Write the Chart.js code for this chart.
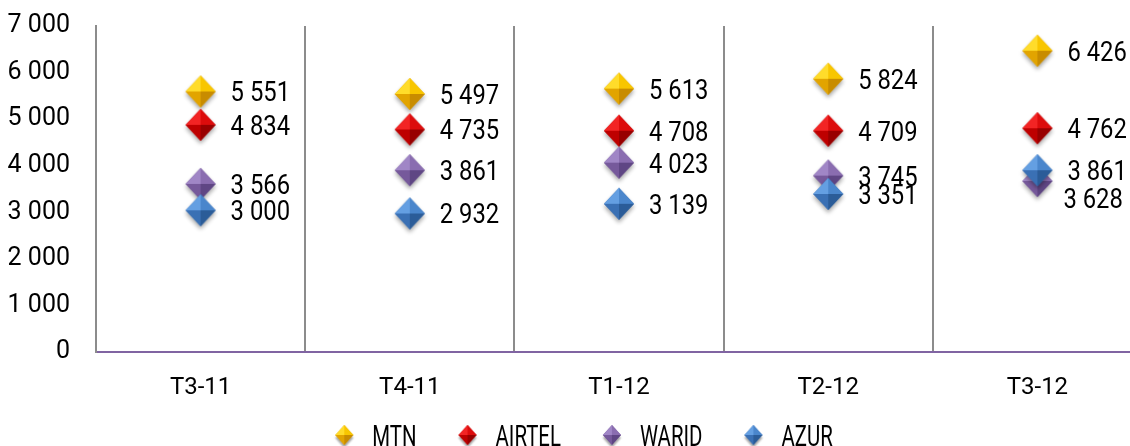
<!DOCTYPE html>
<html>
<head>
<meta charset="utf-8">
<script src="https://cdn.jsdelivr.net/npm/chart.js@4.4.1/dist/chart.umd.min.js"></script>
<style>
    html, body { margin: 0; padding: 0; overflow: hidden; background: #fff; }
    #wrap { width: 1162px; height: 446px; }
</style>
</head>
<body>
<div id="wrap"><canvas id="chart"></canvas></div>
<script>
// data
const quarters = ['T3-11', 'T4-11', 'T1-12', 'T2-12', 'T3-12'];
const operators = ['MTN', 'AIRTEL', 'WARID', 'AZUR'];
const mtn = [5551, 5497, 5613, 5824, 6426];
const airtel = [4834, 4735, 4708, 4709, 4762];
const warid = [3566, 3861, 4023, 3745, 3628];
const azur = [3000, 2932, 3139, 3351, 3861];
const yTicks = [0, 1000, 2000, 3000, 4000, 5000, 6000, 7000];

const font = 'Roboto, "Liberation Sans", sans-serif';

// facet colours for the shaded diamonds: top-left, top-right, bottom-left, bottom-right
const shades = {
    MTN:    ['#FFDC2A', '#F8C600', '#E2A400', '#C88C00'],
    AIRTEL: ['#F22424', '#DC0C0C', '#BE0000', '#980000'],
    WARID:  ['#A086C6', '#8A6DB0', '#76599B', '#5F4684'],
    AZUR:   ['#649FE2', '#4A86CC', '#3A70B4', '#2B5C98']
};

function diamond(cols, hw, hh, pad) {
    const c = document.createElement('canvas');
    c.width = hw * 2 + pad * 2;
    c.height = hh * 2 + pad * 2 + 4;
    const g = c.getContext('2d');
    const cx = c.width / 2, cy = hh + pad;
    // soft shadow
    g.save();
    g.shadowColor = 'rgba(0,0,0,0.35)';
    g.shadowBlur = pad;
    g.shadowOffsetY = 3;
    g.beginPath();
    g.moveTo(cx, cy - hh); g.lineTo(cx + hw, cy); g.lineTo(cx, cy + hh); g.lineTo(cx - hw, cy);
    g.closePath();
    g.fillStyle = cols[2];
    g.fill();
    g.restore();
    const tri = (ax, ay, bx, by, col) => {
        g.beginPath();
        g.moveTo(cx, cy); g.lineTo(ax, ay); g.lineTo(bx, by);
        g.closePath();
        g.fillStyle = col;
        g.fill();
    };
    tri(cx, cy - hh, cx - hw, cy, cols[0]);
    tri(cx, cy - hh, cx + hw, cy, cols[1]);
    tri(cx - hw, cy, cx, cy + hh, cols[2]);
    tri(cx + hw, cy, cx, cy + hh, cols[3]);
    return c;
}

const fmt = v => String(v).replace(/\B(?=(\d{3})+(?!\d))/g, ' ');

// narrow text: squeeze horizontally (no narrow face installed)
function narrowText(ctx, txt, x, y, sx) {
    ctx.save();
    ctx.translate(x, y);
    ctx.scale(sx, 1);
    ctx.fillText(txt, 0, 0);
    ctx.restore();
}

const seriesList = [mtn, airtel, warid, azur];
const bigMarks = operators.map(n => diamond(shades[n], 15, 16, 4));
const smallMarks = operators.map(n => diamond(shades[n], 9, 10, 2));

// value labels, drawn to the right of each marker
const labelShift = { '2-4': [-4, 17] };
const valueLabels = {
    id: 'valueLabels',
    afterDatasetsDraw(chart) {
        const ctx = chart.ctx;
        ctx.save();
        ctx.font = '28px ' + font;
        ctx.fillStyle = '#000';
        ctx.textBaseline = 'middle';
        ctx.textAlign = 'left';
        chart.data.datasets.forEach((ds, i) => {
            chart.getDatasetMeta(i).data.forEach((pt, j) => {
                const s = labelShift[i + '-' + j] || [0, 0];
                narrowText(ctx, fmt(ds.data[j]), pt.x + 30 + s[0], pt.y + 1 + s[1], 0.85);
            });
        });
        ctx.restore();
    }
};

// legend along the bottom
const bottomLegend = {
    id: 'bottomLegend',
    afterDraw(chart) {
        const ctx = chart.ctx;
        const sx = 0.68;
        ctx.save();
        ctx.font = '30px ' + font;
        ctx.fillStyle = '#000';
        ctx.textBaseline = 'middle';
        const gapIn = 19, gapOut = 42, mw = 18;
        const widths = operators.map(n => mw + gapIn + ctx.measureText(n).width * sx);
        const total = widths.reduce((a, b) => a + b, 0) + gapOut * (operators.length - 1);
        let x = chart.width / 2 - total / 2 + 3;
        const y = 436;
        operators.forEach((n, i) => {
            const m = smallMarks[i];
            ctx.drawImage(m, x + mw / 2 - m.width / 2, y - m.height / 2 + 1);
            narrowText(ctx, n, x + mw + gapIn, y + 2, sx);
            x += widths[i] + gapOut;
        });
        ctx.restore();
    }
};

new Chart(document.getElementById('chart'), {
    type: 'line',
    data: {
        labels: quarters,
        datasets: operators.map((n, i) => ({
            label: n,
            data: seriesList[i],
            showLine: false,
            pointStyle: bigMarks[i],
            pointRadius: 15,
            pointHoverRadius: 15,
            order: operators.length - i
        }))
    },
    options: {
        responsive: true,
        maintainAspectRatio: false,
        animation: false,
        layout: { padding: { top: 26, right: 20, left: 0, bottom: 0 } },
        plugins: {
            legend: { display: false },
            tooltip: { enabled: false }
        },
        scales: {
            x: {
                offset: true,
                grid: { offset: true, color: '#8c8c8c', lineWidth: 2, drawTicks: false },
                border: { color: '#8064A2', width: 2 },
                ticks: { color: '#000', padding: 22, font: { family: font, size: 24 } },
                afterFit(scale) { scale.height = 94; }
            },
            y: {
                min: 0,
                max: 7000,
                afterBuildTicks(scale) { scale.ticks = yTicks.map(v => ({ value: v })); },
                grid: { display: false, drawTicks: true, tickLength: 26 },
                border: { color: '#8c8c8c', width: 2 },
                ticks: { color: '#000', padding: 0, font: { family: font, size: 25 }, callback: v => fmt(v) },
                afterFit(scale) { scale.width = 96; }
            }
        }
    },
    plugins: [valueLabels, bottomLegend]
});
</script>
</body>
</html>
